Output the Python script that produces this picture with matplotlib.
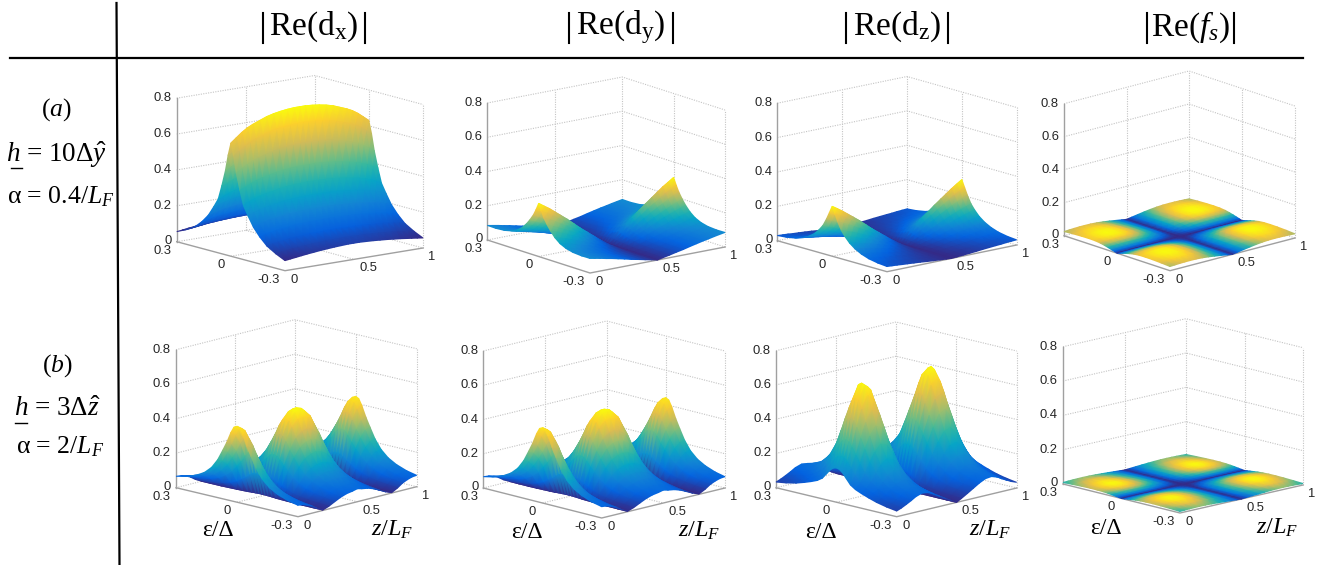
import numpy as np
import matplotlib
matplotlib.use("Agg")
import matplotlib.pyplot as plt
from matplotlib.colors import LinearSegmentedColormap
from matplotlib.tri import Triangulation
from mpl_toolkits.mplot3d import proj3d

W, H = 1319, 565

plt.rcParams['font.family'] = ['Liberation Serif', 'DejaVu Serif']
plt.rcParams['mathtext.fontset'] = 'custom'
plt.rcParams['mathtext.rm'] = 'Liberation Serif'
plt.rcParams['mathtext.it'] = 'Liberation Serif:italic'
plt.rcParams['mathtext.bf'] = 'Liberation Serif:bold'

parula = LinearSegmentedColormap.from_list('parula', [
    '#352A87', '#0363E1', '#1485D4', '#06A7C6', '#38B99E',
    '#92BF73', '#D9BA56', '#FCCE2E', '#F9FB0E'])

# one quadrant of every surface: rows are energy, columns are position
# the pictures look mirrored about energy = 0 and z = 0.5
energy = [0, 0.015, 0.03, 0.05, 0.07, 0.095, 0.125, 0.16, 0.2, 0.25, 0.3]
position = [0, 0.04, 0.08, 0.12, 0.16, 0.21, 0.26, 0.31, 0.36, 0.41, 0.46, 0.5]

a_dx = [[.63, .655, .68, .70, .715, .73, .745, .755, .762, .767, .77, .77],
        [.56, .583, .605, .623, .636, .65, .663, .672, .678, .683, .685, .685],
        [.47, .49, .51, .525, .536, .548, .559, .566, .572, .575, .578, .578],
        [.38, .393, .408, .42, .429, .438, .447, .453, .457, .46, .462, .462],
        [.30, .315, .328, .338, .346, .353, .361, .366, .37, .372, .374, .374],
        [.25, .262, .272, .28, .286, .292, .298, .302, .305, .307, .308, .308],
        [.195, .205, .213, .22, .225, .23, .235, .238, .24, .242, .243, .243],
        [.15, .158, .165, .171, .175, .179, .183, .185, .187, .188, .189, .189],
        [.11, .116, .122, .126, .13, .133, .136, .138, .14, .141, .142, .142],
        [.08, .084, .088, .092, .096, .099, .102, .104, .106, .107, .108, .108],
        [.056, .06, .064, .068, .072, .076, .08, .083, .086, .088, .09, .09]]
a_dy = [[.31, .288, .267, .242, .217, .186, .152, .118, .087, .056, .025, 0],
        [.27, .251, .232, .211, .189, .162, .132, .103, .076, .049, .022, 0],
        [.235, .219, .202, .183, .165, .141, .115, .089, .066, .042, .019, 0],
        [.20, .186, .172, .156, .14, .12, .098, .076, .056, .036, .016, 0],
        [.17, .158, .146, .133, .119, .102, .083, .065, .048, .031, .014, 0],
        [.14, .13, .12, .109, .098, .084, .069, .053, .039, .025, .011, 0],
        [.115, .107, .099, .09, .081, .069, .056, .044, .032, .021, .009, 0],
        [.098, .091, .084, .076, .069, .059, .048, .037, .027, .018, .008, 0],
        [.088, .082, .076, .069, .062, .053, .043, .033, .025, .016, .007, 0],
        [.084, .078, .072, .066, .059, .05, .041, .032, .024, .015, .007, 0],
        [.085, .079, .073, .066, .06, .051, .042, .032, .024, .015, .007, 0]]
a_dz = [[.29, .27, .249, .226, .203, .174, .142, .11, .081, .052, .023, 0],
        [.25, .233, .215, .195, .175, .15, .123, .095, .07, .045, .02, 0],
        [.21, .195, .181, .164, .147, .126, .103, .08, .059, .038, .017, 0],
        [.165, .153, .142, .129, .116, .099, .081, .063, .046, .03, .013, 0],
        [.135, .126, .116, .105, .095, .081, .066, .051, .038, .024, .011, 0],
        [.105, .098, .09, .082, .074, .063, .051, .04, .029, .019, .008, 0],
        [.08, .074, .069, .062, .056, .048, .039, .03, .022, .014, .006, 0],
        [.06, .056, .052, .047, .042, .036, .029, .023, .017, .011, .005, 0],
        [.045, .042, .039, .035, .032, .027, .022, .017, .013, .008, .004, 0],
        [.035, .033, .03, .027, .025, .021, .017, .013, .01, .006, .003, 0],
        [.03, .028, .026, .023, .021, .018, .015, .011, .008, .005, .002, 0]]
a_fs = [[0, 0, 0, 0, 0, 0, 0, 0, 0, 0, 0, 0],
        [.0048, .0052, .0055, .0056, .0057, .0056, .0051, .0043, .0033, .0022, .001, 0],
        [.0097, .0104, .0109, .0113, .0114, .0112, .0103, .0087, .0066, .0043, .0019, 0],
        [.0162, .0173, .0182, .0188, .019, .0186, .0171, .0144, .011, .0072, .0032, 0],
        [.0219, .0235, .0248, .0255, .0258, .0253, .0232, .0196, .015, .0098, .0044, 0],
        [.0278, .0298, .0314, .0324, .0327, .032, .0294, .0249, .019, .0124, .0056, 0],
        [.0314, .0336, .0354, .0365, .0369, .0362, .0332, .028, .0214, .014, .0063, 0],
        [.0323, .0346, .0365, .0376, .038, .0372, .0342, .0289, .022, .0144, .0065, 0],
        [.0316, .0339, .0357, .0368, .0372, .0365, .0335, .0283, .0216, .0141, .0063, 0],
        [.0291, .0311, .0328, .0339, .0342, .0335, .0308, .026, .0198, .013, .0058, 0],
        [.0252, .0269, .0284, .0293, .0296, .029, .0266, .0225, .0172, .0112, .005, 0]]
b_dx = [[.44, .42, .36, .27, .14, .01, .10, .22, .33, .41, .45, .46],
        [.431, .412, .353, .265, .137, .01, .098, .216, .323, .402, .441, .451],
        [.396, .378, .324, .243, .126, .009, .09, .198, .297, .369, .405, .414],
        [.334, .319, .274, .205, .106, .008, .076, .167, .251, .312, .342, .35],
        [.282, .269, .23, .173, .09, .006, .064, .141, .211, .262, .288, .294],
        [.22, .21, .18, .135, .07, .005, .05, .11, .165, .205, .225, .23],
        [.167, .16, .137, .103, .053, .004, .038, .084, .125, .156, .171, .175],
        [.128, .122, .104, .078, .041, .003, .029, .064, .096, .119, .131, .133],
        [.101, .097, .083, .062, .032, .002, .023, .051, .076, .094, .104, .106],
        [.079, .076, .065, .049, .025, .002, .018, .04, .059, .074, .081, .083],
        [.066, .063, .054, .041, .021, .002, .015, .033, .05, .062, .068, .075]]
# dy of row (b) cannot be told apart from dx by eye
b_dy = b_dx
b_dz = [[.20, .26, .35, .47, .58, .66, .63, .52, .38, .24, .10, 0],
        [.195, .255, .343, .46, .568, .647, .617, .51, .372, .235, .098, 0],
        [.18, .235, .315, .425, .522, .594, .567, .468, .342, .216, .09, 0],
        [.15, .20, .273, .366, .452, .515, .491, .406, .296, .187, .078, 0],
        [.12, .165, .228, .305, .377, .429, .41, .338, .247, .156, .065, 0],
        [.10, .13, .175, .235, .29, .33, .315, .26, .19, .12, .05, 0],
        [.085, .105, .135, .18, .22, .25, .24, .198, .144, .091, .038, 0],
        [.07, .085, .105, .137, .168, .191, .183, .151, .11, .07, .029, 0],
        [.055, .068, .082, .105, .128, .145, .139, .114, .084, .053, .022, 0],
        [.042, .054, .068, .085, .104, .119, .113, .094, .068, .043, .018, 0],
        [.033, .044, .058, .073, .09, .102, .098, .081, .059, .037, .016, 0]]
b_fs = [[0, 0, 0, 0, 0, 0, 0, 0, 0, 0, 0, 0],
        [.0023, .0026, .0029, .0031, .0032, .0031, .0028, .0023, .0018, .0012, .0005, 0],
        [.0046, .0052, .0058, .0062, .0064, .0062, .0056, .0046, .0035, .0023, .001, 0],
        [.0076, .0087, .0096, .0103, .0106, .0103, .0092, .0076, .0058, .0038, .0017, 0],
        [.0104, .0118, .0131, .014, .0144, .014, .0125, .0104, .0079, .0052, .0023, 0],
        [.0127, .0144, .016, .0171, .0176, .0171, .0153, .0127, .0097, .0063, .0028, 0],
        [.0141, .0161, .0178, .019, .0196, .019, .0171, .0141, .0108, .0071, .0031, 0],
        [.0144, .0164, .0182, .0194, .02, .0194, .0174, .0144, .011, .0072, .0032, 0],
        [.0134, .0153, .0169, .018, .0186, .018, .0162, .0134, .0102, .0067, .003, 0],
        [.0114, .013, .0144, .0153, .0158, .0153, .0137, .0114, .0087, .0057, .0025, 0],
        [.0089, .0102, .0113, .012, .0124, .012, .0108, .0089, .0068, .0045, .002, 0]]

z_ticks = [0, 0.2, 0.4, 0.6, 0.8]
z_labels = ['0', '0.2', '0.4', '0.6', '0.8']
headers = ['Re(d$_{\\mathrm{x}}$)', 'Re(d$_{\\mathrm{y}}$)', 'Re(d$_{\\mathrm{z}}$)',
           'Re($\\mathit{f}_{\\mathit{s}}$)']

# pixel spots of each box: left corner, front corner, right corner, height of z axis
boxes = [
    ((176.7, 241.7), (285, 270.7), (423, 248), 143.5),
    ((487.3, 240), (590, 273), (725, 247), 137),
    ((777.3, 240.7), (887, 271.7), (1016.7, 245), 137.5),
    ((1064, 235.7), (1170, 270.7), (1295, 238), 132),
    ((176, 487.7), (298, 516.7), (416.7, 486.7), 138),
    ((483.3, 488), (601.7, 518), (725, 488), 137),
    ((776, 487.7), (896.7, 516.7), (1016.7, 488), 137),
    ((1063, 484), (1180, 513), (1303, 485), 137.3),
]
surfaces = [a_dx, a_dy, a_dz, a_fs, b_dx, b_dy, b_dz, b_fs]

fig = plt.figure(figsize=(W / 100, H / 100), dpi=100)
over = fig.add_axes([0, 0, 1, 1], zorder=5)
over.set_xlim(0, W)
over.set_ylim(H, 0)
over.axis('off')


def to_pixels(ax, xs, ys, zs):
    ax.apply_aspect()
    tx, ty, tz = proj3d.proj_transform(np.asarray(xs, float), np.asarray(ys, float),
                                       np.asarray(zs, float), ax.get_proj())
    pts = ax.transData.transform(np.column_stack([tx, ty]))
    return pts[:, 0], H - pts[:, 1], tz


def make_axes(left, front, right, height):
    xdx, xup = right[0] - front[0], front[1] - right[1]
    ydx, yup = front[0] - left[0], front[1] - left[1]
    a, b = xup / xdx, yup / ydx
    elev = np.arcsin(np.sqrt(a * b))
    ang = np.arctan(np.sqrt(b / a))
    aspect = (xdx / np.sin(ang), ydx / np.cos(ang), height / np.cos(elev))

    size = 400
    ax = fig.add_axes([(front[0] - size / 2) / W, (H - front[1] - size / 2) / H,
                       size / W, size / H], projection='3d', proj_type='ortho')
    ax.set_xlim(0, 1, view_margin=0)
    ax.set_ylim(-0.3, 0.3, view_margin=0)
    ax.set_zlim(0, 0.8, view_margin=0)
    ax.view_init(np.degrees(elev), -180 + np.degrees(ang))
    ax.set_box_aspect(aspect)
    ax.set_axis_off()
    ax.patch.set_visible(False)

    # scale and shift so the corners land where they are in the picture
    px, py, _ = to_pixels(ax, [0, 1], [-0.3, -0.3], [0, 0])
    ax.set_box_aspect(aspect, zoom=xdx / (px[1] - px[0]))
    px, py, _ = to_pixels(ax, [0], [-0.3], [0])
    pos = ax.get_position(original=True)
    ax.set_position([pos.x0 + (front[0] - px[0]) / W, pos.y0 - (front[1] - py[0]) / H,
                     pos.width, pos.height])
    return ax


def draw_frame(ax):
    grid = dict(color='#c4c4c4', lw=0.8, ls=(0, (1, 1.2)), clip_on=False)
    for z in z_ticks:
        ax.plot([0, 1, 1], [0.3, 0.3, -0.3], [z, z, z], **grid)
    for x, y in [(0.5, 0.3), (1, 0.3), (1, 0), (1, -0.3)]:
        ax.plot([x, x], [y, y], [0, 0.8], **grid)
    ax.plot([0.5, 0.5], [0.3, -0.3], [0, 0], **grid)
    ax.plot([0, 1], [0, 0], [0, 0], **grid)
    solid = dict(color='#a0a0a0', lw=1.0, clip_on=False)
    ax.plot([0, 0], [0.3, 0.3], [0, 0.8], **solid)
    ax.plot([0, 0, 1], [0.3, -0.3, -0.3], [0, 0, 0], **solid)


def draw_ticks(ax):
    tick = dict(family='Liberation Sans', fontsize=9.4, color='#262626')
    px, py, _ = to_pixels(ax, [0] * 5, [0.3] * 5, z_ticks)
    for x, y, s in zip(px, py, z_labels):
        over.text(x - 5, y - (1 if s == '0' else 0), s, ha='right', va='center', **tick)
    px, py, _ = to_pixels(ax, [0, 0, 0], [0.3, 0, -0.3], [0, 0, 0])
    over.text(px[0] - 5, py[0] + 9, '0.3', ha='right', va='center', **tick)
    over.text(px[1] - 10, py[1] + 9, '0', ha='center', va='center', **tick)
    over.text(px[2] - 5, py[2] + 9, '-0.3', ha='right', va='center', **tick)
    px, py, _ = to_pixels(ax, [0, 0.5, 1], [-0.3] * 3, [0, 0, 0])
    over.text(px[0] + 9, py[0] + 9, '0', ha='center', va='center', **tick)
    over.text(px[1] + 14, py[1] + 9, '0.5', ha='center', va='center', **tick)
    over.text(px[2] + 8, py[2] + 9, '1', ha='center', va='center', **tick)


def draw_surface(ax, table):
    half = np.array(table, float)
    half = np.hstack([half, half[:, -2::-1]])
    z = np.vstack([half[:0:-1], half])
    xh = np.array(position)
    xs = np.concatenate([xh, 1 - xh[-2::-1]])
    eh = np.array(energy)
    es = np.concatenate([-eh[:0:-1], eh])
    gx, gy = np.meshgrid(xs, es)
    px, py, tz = to_pixels(ax, gx.ravel(), gy.ravel(), z.ravel())

    n_rows, n_cols = z.shape
    idx = np.arange(n_rows * n_cols).reshape(n_rows, n_cols)
    a, b, c, d = idx[:-1, :-1].ravel(), idx[:-1, 1:].ravel(), idx[1:, 1:].ravel(), idx[1:, :-1].ravel()
    tris = np.vstack([np.column_stack([a, b, c]), np.column_stack([a, c, d])])
    # far triangles first so that the near ones paint over them
    tris = tris[np.argsort(-tz[tris].mean(axis=1))]
    over.tripcolor(Triangulation(px, py, tris), z.ravel(), shading='gouraud',
                   cmap=parula, vmin=z.min(), vmax=z.max())


for box, table in zip(boxes, surfaces):
    ax = make_axes(*box)
    draw_frame(ax)
    draw_surface(ax, table)
    draw_ticks(ax)

over.set_xlim(0, W)
over.set_ylim(H, 0)

# table rules
over.plot([116.5, 119.5], [3, 565], color='black', lw=1.6)
over.plot([10, 1303], [58, 58], color='black', lw=1.6)

# column headers with their tall bars
head_x = [(263, 365), (569, 673), (846, 948), (1147, 1234)]
for (x0, x1), s in zip(head_x, headers):
    over.plot([x0, x0], [13, 43], color='black', lw=1.5)
    over.plot([x1, x1], [13, 43], color='black', lw=1.5)
    over.text((x0 + x1) / 2, 27, s, ha='center', va='center', fontsize=24)

# row labels
over.text(56, 110, '($\\mathit{a}$)', ha='center', va='center', fontsize=18.5)
over.text(57, 155, '$\\mathit{h}$ = 10Δ$\\hat{\\mathit{y}}$', ha='center', va='center', fontsize=19.5)
over.plot([10.5, 22], [168, 168], color='black', lw=1.0)
over.text(61, 197, 'α = 0.4/$\\mathit{L}_{\\mathit{F}}$', ha='center', va='center', fontsize=18.5)
over.text(57, 366, '($\\mathit{b}$)', ha='center', va='center', fontsize=18.5)
over.text(57, 410, '$\\mathit{h}$ = 3Δ$\\hat{\\mathit{z}}$', ha='center', va='center', fontsize=19.5)
over.plot([15, 27], [423, 423], color='black', lw=1.0)
over.text(60, 447, 'α = 2/$\\mathit{L}_{\\mathit{F}}$', ha='center', va='center', fontsize=18.5)

# axis names, bottom row only
eps_spots = [(218, 530), (527, 532), (821, 532), (1106, 529)]
pos_spots = [(392, 530), (699, 531), (990, 530), (1277, 528)]
for x, y in eps_spots:
    over.text(x, y, 'ε/Δ', ha='center', va='center', fontsize=17)
for x, y in pos_spots:
    over.text(x, y, '$\\mathit{z}/\\mathit{L}_{\\mathit{F}}$', ha='center', va='center', fontsize=17.5)

fig.savefig('out.png', dpi=100, facecolor='white')
